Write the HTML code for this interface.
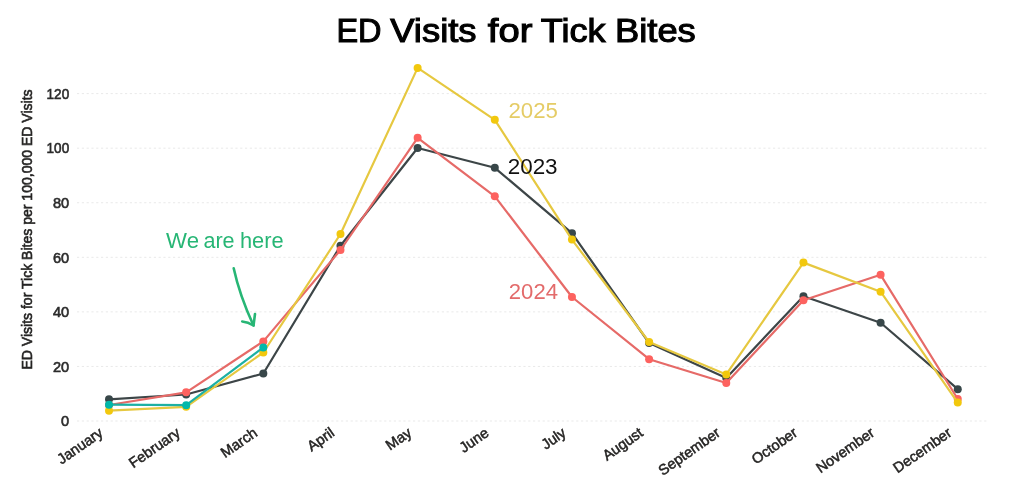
<!DOCTYPE html>
<html><head><meta charset="utf-8"><style>
html,body{margin:0;padding:0;background:#fff;width:1024px;height:500px;overflow:hidden}
svg{display:block;will-change:transform;font-family:"Liberation Sans",sans-serif}
</style></head><body>
<svg width="1024" height="500" viewBox="0 0 1024 500">
<defs><filter id="soft" x="-5%" y="-5%" width="110%" height="110%"><feGaussianBlur stdDeviation="0.4"/></filter></defs>
<line x1="77" y1="421.00" x2="987" y2="421.00" stroke="#e9e9e9" stroke-width="1" stroke-dasharray="2.2 2.6"/>
<line x1="77" y1="366.43" x2="987" y2="366.43" stroke="#e9e9e9" stroke-width="1" stroke-dasharray="2.2 2.6"/>
<line x1="77" y1="311.87" x2="987" y2="311.87" stroke="#e9e9e9" stroke-width="1" stroke-dasharray="2.2 2.6"/>
<line x1="77" y1="257.30" x2="987" y2="257.30" stroke="#e9e9e9" stroke-width="1" stroke-dasharray="2.2 2.6"/>
<line x1="77" y1="202.73" x2="987" y2="202.73" stroke="#e9e9e9" stroke-width="1" stroke-dasharray="2.2 2.6"/>
<line x1="77" y1="148.17" x2="987" y2="148.17" stroke="#e9e9e9" stroke-width="1" stroke-dasharray="2.2 2.6"/>
<line x1="77" y1="93.60" x2="987" y2="93.60" stroke="#e9e9e9" stroke-width="1" stroke-dasharray="2.2 2.6"/>
<text x="69.2" y="426.20" text-anchor="end" font-size="14.6" fill="#2b2b2b" stroke="#2b2b2b" stroke-width="0.6">0</text>
<text x="69.2" y="371.63" text-anchor="end" font-size="14.6" fill="#2b2b2b" stroke="#2b2b2b" stroke-width="0.6">20</text>
<text x="69.2" y="317.07" text-anchor="end" font-size="14.6" fill="#2b2b2b" stroke="#2b2b2b" stroke-width="0.6">40</text>
<text x="69.2" y="262.50" text-anchor="end" font-size="14.6" fill="#2b2b2b" stroke="#2b2b2b" stroke-width="0.6">60</text>
<text x="69.2" y="207.93" text-anchor="end" font-size="14.6" fill="#2b2b2b" stroke="#2b2b2b" stroke-width="0.6">80</text>
<text x="69.2" y="153.37" text-anchor="end" font-size="14.6" fill="#2b2b2b" stroke="#2b2b2b" stroke-width="0.6" textLength="22.6" lengthAdjust="spacingAndGlyphs">100</text>
<text x="69.2" y="98.80" text-anchor="end" font-size="14.6" fill="#2b2b2b" stroke="#2b2b2b" stroke-width="0.6" textLength="22.6" lengthAdjust="spacingAndGlyphs">120</text>
<text transform="translate(31.8,229.5) rotate(-90)" text-anchor="middle" font-size="14.5" fill="#252423" stroke="#252423" stroke-width="0.6" textLength="280.2" lengthAdjust="spacingAndGlyphs">ED Visits for Tick Bites per 100,000 ED Visits</text>
<text transform="translate(104.00,435.00) rotate(-35)" text-anchor="end" font-size="14.6" font-weight="normal" fill="#252423" stroke="#252423" stroke-width="0.5">January</text>
<text transform="translate(181.16,435.00) rotate(-35)" text-anchor="end" font-size="14.6" font-weight="normal" fill="#252423" stroke="#252423" stroke-width="0.5">February</text>
<text transform="translate(258.32,435.00) rotate(-35)" text-anchor="end" font-size="14.6" font-weight="normal" fill="#252423" stroke="#252423" stroke-width="0.5">March</text>
<text transform="translate(335.48,435.00) rotate(-35)" text-anchor="end" font-size="14.6" font-weight="normal" fill="#252423" stroke="#252423" stroke-width="0.5">April</text>
<text transform="translate(412.64,435.00) rotate(-35)" text-anchor="end" font-size="14.6" font-weight="normal" fill="#252423" stroke="#252423" stroke-width="0.5">May</text>
<text transform="translate(489.80,435.00) rotate(-35)" text-anchor="end" font-size="14.6" font-weight="normal" fill="#252423" stroke="#252423" stroke-width="0.5">June</text>
<text transform="translate(566.96,435.00) rotate(-35)" text-anchor="end" font-size="14.6" font-weight="normal" fill="#252423" stroke="#252423" stroke-width="0.5">July</text>
<text transform="translate(644.12,435.00) rotate(-35)" text-anchor="end" font-size="14.6" font-weight="normal" fill="#252423" stroke="#252423" stroke-width="0.5">August</text>
<text transform="translate(721.28,435.00) rotate(-35)" text-anchor="end" font-size="14.6" font-weight="normal" fill="#252423" stroke="#252423" stroke-width="0.5">September</text>
<text transform="translate(798.44,435.00) rotate(-35)" text-anchor="end" font-size="14.6" font-weight="normal" fill="#252423" stroke="#252423" stroke-width="0.5">October</text>
<text transform="translate(875.60,435.00) rotate(-35)" text-anchor="end" font-size="14.6" font-weight="normal" fill="#252423" stroke="#252423" stroke-width="0.5">November</text>
<text transform="translate(952.76,435.00) rotate(-35)" text-anchor="end" font-size="14.6" font-weight="normal" fill="#252423" stroke="#252423" stroke-width="0.5">December</text>
<g filter="url(#soft)"><polyline points="109.00,399.30 186.16,394.50 263.32,373.50 340.48,245.80 417.64,148.00 494.80,167.80 571.96,233.20 649.12,343.00 726.28,377.90 803.44,296.25 880.60,322.75 957.76,389.20" fill="none" stroke="#3c4547" stroke-width="2.2" stroke-linejoin="round" stroke-linecap="round"/>
<circle cx="109.00" cy="399.30" r="4.0" fill="#374649"/>
<circle cx="186.16" cy="394.50" r="4.0" fill="#374649"/>
<circle cx="263.32" cy="373.50" r="4.0" fill="#374649"/>
<circle cx="340.48" cy="245.80" r="4.0" fill="#374649"/>
<circle cx="417.64" cy="148.00" r="4.0" fill="#374649"/>
<circle cx="494.80" cy="167.80" r="4.0" fill="#374649"/>
<circle cx="571.96" cy="233.20" r="4.0" fill="#374649"/>
<circle cx="649.12" cy="343.00" r="4.0" fill="#374649"/>
<circle cx="726.28" cy="377.90" r="4.0" fill="#374649"/>
<circle cx="803.44" cy="296.25" r="4.0" fill="#374649"/>
<circle cx="880.60" cy="322.75" r="4.0" fill="#374649"/>
<circle cx="957.76" cy="389.20" r="4.0" fill="#374649"/>
</g>
<g filter="url(#soft)"><polyline points="109.00,405.00 186.16,392.30 263.32,341.40 340.48,250.00 417.64,137.80 494.80,196.30 571.96,297.00 649.12,359.20 726.28,383.00 803.44,300.30 880.60,274.80 957.76,399.00" fill="none" stroke="#E66A67" stroke-width="2.2" stroke-linejoin="round" stroke-linecap="round"/>
<circle cx="109.00" cy="405.00" r="4.0" fill="#FD625E"/>
<circle cx="186.16" cy="392.30" r="4.0" fill="#FD625E"/>
<circle cx="263.32" cy="341.40" r="4.0" fill="#FD625E"/>
<circle cx="340.48" cy="250.00" r="4.0" fill="#FD625E"/>
<circle cx="417.64" cy="137.80" r="4.0" fill="#FD625E"/>
<circle cx="494.80" cy="196.30" r="4.0" fill="#FD625E"/>
<circle cx="571.96" cy="297.00" r="4.0" fill="#FD625E"/>
<circle cx="649.12" cy="359.20" r="4.0" fill="#FD625E"/>
<circle cx="726.28" cy="383.00" r="4.0" fill="#FD625E"/>
<circle cx="803.44" cy="300.30" r="4.0" fill="#FD625E"/>
<circle cx="880.60" cy="274.80" r="4.0" fill="#FD625E"/>
<circle cx="957.76" cy="399.00" r="4.0" fill="#FD625E"/>
</g>
<g filter="url(#soft)"><polyline points="109.00,410.70 186.16,406.80 263.32,352.50 340.48,234.00 417.64,67.90 494.80,119.80 571.96,239.60 649.12,342.00 726.28,374.40 803.44,262.60 880.60,291.70 957.76,402.60" fill="none" stroke="#E6C840" stroke-width="2.2" stroke-linejoin="round" stroke-linecap="round"/>
<circle cx="109.00" cy="410.70" r="4.0" fill="#F2C80F"/>
<circle cx="186.16" cy="406.80" r="4.0" fill="#F2C80F"/>
<circle cx="263.32" cy="352.50" r="4.0" fill="#F2C80F"/>
<circle cx="340.48" cy="234.00" r="4.0" fill="#F2C80F"/>
<circle cx="417.64" cy="67.90" r="4.0" fill="#F2C80F"/>
<circle cx="494.80" cy="119.80" r="4.0" fill="#F2C80F"/>
<circle cx="571.96" cy="239.60" r="4.0" fill="#F2C80F"/>
<circle cx="649.12" cy="342.00" r="4.0" fill="#F2C80F"/>
<circle cx="726.28" cy="374.40" r="4.0" fill="#F2C80F"/>
<circle cx="803.44" cy="262.60" r="4.0" fill="#F2C80F"/>
<circle cx="880.60" cy="291.70" r="4.0" fill="#F2C80F"/>
<circle cx="957.76" cy="402.60" r="4.0" fill="#F2C80F"/>
</g>
<g filter="url(#soft)"><polyline points="109.00,404.70 186.16,405.20 263.32,347.40" fill="none" stroke="#1FB0A4" stroke-width="2.2" stroke-linejoin="round" stroke-linecap="round"/>
<circle cx="109.00" cy="404.70" r="4.0" fill="#01B8AA"/>
<circle cx="186.16" cy="405.20" r="4.0" fill="#01B8AA"/>
<circle cx="263.32" cy="347.40" r="4.0" fill="#01B8AA"/>
</g>
<text x="508.4" y="118.4" font-size="22" fill="#E5CC66" textLength="49.5" lengthAdjust="spacingAndGlyphs">2025</text>
<text x="507.7" y="173.6" font-size="22" fill="#111" textLength="49.9" lengthAdjust="spacingAndGlyphs">2023</text>
<text x="508.8" y="299.2" font-size="22" fill="#E36B6B" textLength="49.2" lengthAdjust="spacingAndGlyphs">2024</text>
<text x="166.1" y="248.2" font-size="22" fill="#27B675" textLength="32.9" lengthAdjust="spacingAndGlyphs">We</text>
<text x="203.4" y="248.2" font-size="22" fill="#27B675" textLength="31.2" lengthAdjust="spacingAndGlyphs">are</text>
<text x="239.9" y="248.2" font-size="22" fill="#27B675" textLength="43.7" lengthAdjust="spacingAndGlyphs">here</text>
<path d="M233.7 268.2 Q239.5 295 253.5 325.5" fill="none" stroke="#27B675" stroke-width="2.6" stroke-linecap="round"/>
<path d="M242.2 321.5 Q248 322 253.5 325.5 L255 314" fill="none" stroke="#27B675" stroke-width="2.6" stroke-linecap="round" stroke-linejoin="round"/>
<text x="336.4" y="41.6" font-size="33.5" fill="#000" stroke="#000" stroke-width="1.1" textLength="45.1" lengthAdjust="spacingAndGlyphs">ED</text>
<text x="390.2" y="41.6" font-size="33.5" fill="#000" stroke="#000" stroke-width="1.1" textLength="86.4" lengthAdjust="spacingAndGlyphs">Visits</text>
<text x="487.8" y="41.6" font-size="33.5" fill="#000" stroke="#000" stroke-width="1.1" textLength="44.6" lengthAdjust="spacingAndGlyphs">for</text>
<text x="540.8" y="41.6" font-size="33.5" fill="#000" stroke="#000" stroke-width="1.1" textLength="64.7" lengthAdjust="spacingAndGlyphs">Tick</text>
<text x="615.0" y="41.6" font-size="33.5" fill="#000" stroke="#000" stroke-width="1.1" textLength="80.8" lengthAdjust="spacingAndGlyphs">Bites</text>
</svg>
</body></html>
